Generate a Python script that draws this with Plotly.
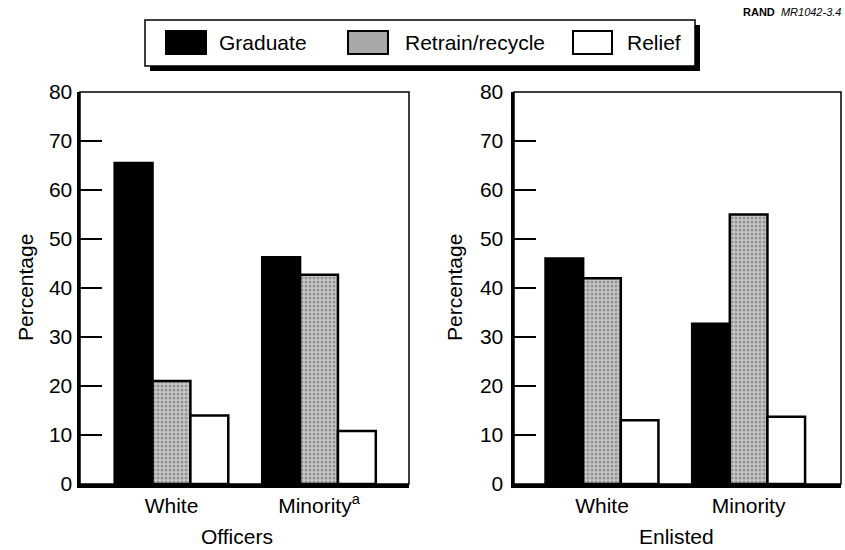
import plotly.graph_objects as go

# ---------------- data ----------------
series_names = ["Graduate", "Retrain/recycle", "Relief"]
officer_categories = ["White", "Minority<sup>a</sup>"]
enlisted_categories = ["White", "Minority"]

officers_graduate = [65.5, 46.3]
officers_retrain = [21.0, 42.7]
officers_relief = [14.0, 10.8]

enlisted_graduate = [46.0, 32.7]
enlisted_retrain = [42.0, 55.0]
enlisted_relief = [13.0, 13.7]

y_ticks = [0, 10, 20, 30, 40, 50, 60, 70, 80]
y_minor_ticks = [10, 20, 30, 40, 50, 60, 70]

# ---------------- helpers ----------------
W, H = 845, 550
FONT = "Liberation Sans, Arial, Helvetica, sans-serif"


def px(x):
    return x / W


def py(y):
    return 1 - y / H


styles = {
    "Graduate": dict(color="black", line=dict(color="black", width=2.5)),
    "Retrain/recycle": dict(
        color="#bcbcbc",
        line=dict(color="black", width=2.5),
        pattern=dict(shape=".", fgcolor="#5e5e5e", bgcolor="#c8c8c8", size=4, solidity=0.45),
    ),
    "Relief": dict(color="white", line=dict(color="black", width=2.5)),
}

fig = go.Figure()

panels = [
    ("x", "y", officer_categories, [officers_graduate, officers_retrain, officers_relief]),
    ("x2", "y2", enlisted_categories, [enlisted_graduate, enlisted_retrain, enlisted_relief]),
]
for xa, ya, cats, vals in panels:
    for name, v in zip(series_names, vals):
        fig.add_trace(
            go.Bar(
                x=cats,
                y=v,
                name=name,
                marker=styles[name],
                xaxis=xa,
                yaxis=ya,
                showlegend=False,
            )
        )

tickfont = dict(family=FONT, size=21, color="black")

yaxis_common = dict(
    range=[0, 80],
    tickvals=y_ticks,
    ticks="",
    showgrid=False,
    zeroline=False,
    showline=True,
    linewidth=3.5,
    linecolor="black",
    tickfont=tickfont,
    fixedrange=True,
    automargin=False,
    minor=dict(
        tickvals=y_minor_ticks,
        ticks="inside",
        ticklen=22,
        tickwidth=2,
        tickcolor="black",
        showgrid=False,
    ),
)
xaxis_common = dict(
    type="category",
    ticks="",
    showgrid=False,
    zeroline=False,
    showline=True,
    linewidth=3.5,
    linecolor="black",
    tickfont=tickfont,
    fixedrange=True,
    automargin=False,
)

fig.update_layout(
    width=W,
    height=H,
    margin=dict(l=0, r=0, t=0, b=0),
    paper_bgcolor="white",
    plot_bgcolor="white",
    barmode="group",
    bargap=0.23,
    bargroupgap=0,
    showlegend=False,
    font=dict(family=FONT, color="black"),
    xaxis=dict(domain=[px(80), px(409)], anchor="y", range=[-0.62, 1.61], **xaxis_common),
    yaxis=dict(domain=[py(484), py(92)], anchor="x", **yaxis_common),
    xaxis2=dict(domain=[px(514), px(841)], anchor="y2", range=[-0.6, 1.63], **xaxis_common),
    yaxis2=dict(domain=[py(484), py(92)], anchor="x2", ticklabelstandoff=3, **yaxis_common),
)

shapes = []
# thin frame (top/right) for each panel
for xr, yr in [("x domain", "y domain"), ("x2 domain", "y2 domain")]:
    shapes.append(dict(type="rect", xref=xr, yref=yr, x0=0, x1=1, y0=0, y1=1,
                       line=dict(color="black", width=1.5), layer="above"))

# manual legend: shadow + box
shapes.append(dict(type="rect", xref="paper", yref="paper",
                   x0=px(150), x1=px(700), y0=py(71), y1=py(25),
                   fillcolor="black", line=dict(width=0)))
shapes.append(dict(type="rect", xref="paper", yref="paper",
                   x0=px(145), x1=px(695), y0=py(66), y1=py(20),
                   fillcolor="white", line=dict(color="black", width=1.5)))

legend_swatch_x = [(166, 206), (348, 388), (573, 612)]
legend_text_x = [217, 403, 625]
swatch_fill = ["black", "#a8a8a8", "white"]
for (x0, x1), fc in zip(legend_swatch_x, swatch_fill):
    shapes.append(dict(type="rect", xref="paper", yref="paper",
                       x0=px(x0), x1=px(x1), y0=py(54), y1=py(31),
                       fillcolor=fc, line=dict(color="black", width=2)))

annotations = []
for name, tx in zip(series_names, legend_text_x):
    annotations.append(dict(text=name, xref="paper", yref="paper",
                            x=px(tx), y=py(43), xanchor="left", yanchor="middle",
                            showarrow=False, font=dict(family=FONT, size=21, color="black")))

# axis titles
annotations.append(dict(text="Percentage", xref="paper", yref="paper", x=px(25), y=py(288),
                        textangle=-90, showarrow=False, xanchor="center", yanchor="middle",
                        font=dict(family=FONT, size=21, color="black")))
annotations.append(dict(text="Percentage", xref="paper", yref="paper", x=px(454), y=py(288),
                        textangle=-90, showarrow=False, xanchor="center", yanchor="middle",
                        font=dict(family=FONT, size=21, color="black")))
annotations.append(dict(text="Officers", xref="paper", yref="paper", x=px(237), y=py(536),
                        showarrow=False, xanchor="center", yanchor="middle",
                        font=dict(family=FONT, size=21, color="black")))
annotations.append(dict(text="Enlisted", xref="paper", yref="paper", x=px(676), y=py(536),
                        showarrow=False, xanchor="center", yanchor="middle",
                        font=dict(family=FONT, size=21, color="black")))

# source tag
annotations.append(dict(text="<b>RAND</b>  <i>MR1042-3.4</i>", xref="paper", yref="paper",
                        x=px(843), y=py(12), xanchor="right", yanchor="middle",
                        showarrow=False, font=dict(family=FONT, size=11, color="black")))

fig.update_layout(shapes=shapes, annotations=annotations)

fig.write_html(
    "out.html",
    config={"displayModeBar": False, "staticPlot": True},
    post_script="document.body.style.margin='0';document.body.style.overflow='hidden';",
)
